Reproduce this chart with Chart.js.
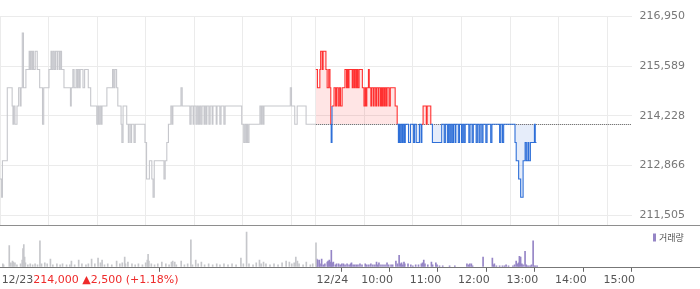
<!DOCTYPE html>
<html><head><meta charset="utf-8">
<script src="https://cdn.jsdelivr.net/npm/chart.js@4"></script>
<style>html,body{margin:0;padding:0;background:#fff;overflow:hidden}canvas{display:block}</style>
</head><body>
<canvas id="price" width="700" height="225"></canvas>
<canvas id="vol" width="700" height="64"></canvas>
<script>
// ---------- data ----------
const BASE_PRICE = 214000;          // reference line (dotted)
const DAY_OFFSET = 390;             // minutes of the 12/23 session shown before 12/24
// 12/23 session: minutes from 09:00, price (value holds until next change)
const prevTimes = [0,2,3,9,15,16,17,18.5,21,23,25,26,27.5,29,32,36,37,38,39.5,40.5,41.5,43.5,46,49,52.5,54,60.5,63,64,65.5,67,68.5,70.5,71.5,73.5,74.5,76,79,87,88,90,91.5,94,95.5,96.5,98,99,102.5,104.5,109,112,119.5,121,122,123.5,125,126,132,139,140.5,142,144,145.5,149.5,150.5,152,156.5,158.5,159.5,161.5,162.5,165.5,167,179,181,184.5,187.5,189,190.5,202.5,204,206,208,211,212.5,213.5,223.5,225,234.5,236,238.5,239.5,242,243.5,245,246.5,248,249.5,252,253,254.5,255.5,258,259.5,262,263,267,268,271.5,273,276.5,278,298.5,301,302.5,304,305,306,307.5,321,322.5,323.5,325,326,358.5,360,364,367,378,390];
const prevPrices = [212500,212000,213000,215000,214500,214000,214500,214000,214500,215000,214500,215000,216500,215000,215500,216000,215500,216000,215500,216000,215500,216000,215500,215000,214000,215000,215500,216000,215500,216000,215500,216000,215500,216000,215500,216000,215500,215000,214500,215000,215500,215000,215500,215000,215500,215000,215500,215000,215500,215000,214500,214000,214500,214000,214500,214000,214500,215000,215500,215000,215500,215000,214500,214000,213500,214500,214000,213500,214000,213500,214000,213500,214000,213500,212500,213000,212500,212000,213000,212500,213000,213500,214000,214500,214000,214500,215000,214500,214000,214500,214000,214500,214000,214500,214000,214500,214000,214500,214000,214500,214000,214500,214000,214500,214000,214500,214000,214500,214000,214500,214000,214500,214000,213500,214000,213500,214000,213500,214000,214500,214000,214500,214000,214500,215000,214500,214000,214500,214000,214000];
// 12/24 session: minutes from 09:00, price
const todayTimes = [0,2,5,6,8,9,12.5,14,16,17.5,18.5,19,20,22.5,24.5,25.5,27.5,29,30.5,32.5,36,38,39,40,41,45,46,47.5,48.5,50,51,52,53.5,57.5,59.5,61,62,63,65,66,68,69,71,72,74,75,77,78,80,81,82,83,84.5,85.5,87,88,90.5,92,98,100.5,102,103,104,105.5,107,108,109.5,110.5,114.5,117,120.5,122,124,128,130,131,132.5,136.5,137.5,142,144,155.5,158.5,160,162.5,164,165.5,167,168.5,170,172,173,176,177.5,180,181.5,183,184.5,189,190.5,193,194.5,198,199.5,201.5,203,205,206.5,210,211.5,216,217.5,227,228.5,230.5,232,246,247.5,250.5,253,256,258.5,260,262,263,265,270,271,272.5];
const todayPrices = [215500,215000,215500,216000,215500,216000,215500,215000,215500,215000,214000,213500,214500,215000,214500,215000,214500,215000,214500,215000,215500,215000,215500,215000,215500,215000,215500,215000,215500,215000,215500,215000,215500,215000,214500,215000,214500,215000,215500,215000,214500,215000,214500,215000,214500,215000,214500,215000,214500,215000,214500,215000,214500,215000,214500,215000,214500,215000,214500,214000,213500,214000,213500,214000,213500,214000,213500,214000,213500,214000,213500,214000,213500,214000,213500,214000,214500,214000,214500,214000,213500,214000,213500,214000,213500,214000,213500,214000,213500,214000,213500,214000,213500,214000,213500,214000,213500,214000,213500,214000,213500,214000,213500,214000,213500,214000,213500,214000,213500,214000,213500,214000,213500,214000,213500,214000,213500,213000,212500,212000,213000,213500,213000,213500,213000,213500,214000,213500,213500];
// volume (shares) per minute
const prevVolTimes = [1,2,9,11,13,14,16,18.5,23,25,26,27,28,29,32,35,38,41,44,47,49,53,56,60,63,68,72,75,80,84,86,90,95,99,104,107,111,115,119,122,124,127,131,136,142,146,149,152,153,156,161,165,169,174,178,180,181,182,185,189,193,198,203,207,210,211.5,214,216,222,226,230,234,236,240,243,247,251,256,261,266,270,275,280,285,290,296,299,303,306,311,315,319,321,324,327,332,337,342,347,352,356,359,362,364,366,368,373,377,382,385,389];
const prevVols = [300,200,2200,400,600,500,400,200,300,700,1900,2300,1000,400,200,300,200,300,200,2700,300,400,300,800,200,300,200,300,200,200,600,200,700,300,200,300,800,300,900,400,700,200,300,200,600,300,400,1000,300,500,300,200,300,200,400,700,1300,600,300,200,300,500,300,200,500,600,500,200,600,200,300,2800,200,700,300,500,200,300,200,300,200,300,200,300,200,900,300,3600,300,200,400,700,300,500,300,200,300,200,400,600,500,300,400,1000,600,300,200,500,200,300,2500];
const todayVolTimes = [0,1,3,4,6,8,10,13,14,15.5,17,18,19,20.5,23,24.5,27,29,31,33,35,37.5,40,42,43,45,47,49,51,53.5,56,60,62,64.5,67,69.5,72,74,75.5,77,79.5,82,84.5,87,89,92,94,98,100,102,104,105,106.5,108,109,113,116.5,119,122.5,126,129.5,131,132.5,134,137.5,142,143.5,147.5,149,152,156,164.5,171,186,188,189.5,191.5,193,206,217.5,219,220,222.5,226.5,230,232.5,234.5,237.5,243,245,247,249,250,251,252.5,254,255.5,258,259.5,260.5,262.5,264.5,266,268,269.5,271,273];
const todayVols = [800,700,700,300,800,200,300,500,600,700,500,1700,400,500,200,300,300,200,300,300,200,300,200,300,400,200,200,200,200,300,200,300,200,200,300,200,200,500,200,400,200,200,200,400,200,200,200,600,300,1200,300,400,200,500,300,300,200,100,200,200,300,400,700,300,200,500,200,400,200,100,100,100,100,300,200,300,300,100,1000,900,200,300,100,100,100,100,200,100,100,200,600,300,400,1100,1000,300,200,1600,200,100,100,100,200,2700,100,100,100];
// axes
const yTickValues = [211505, 212866.25, 214227.5, 215588.75, 216950];
const gridTimes = [0,60,120,180,240,300,360,390,450,510,570,630,690,750];
const labelTimes = [0,390,450,510,570,630,690,750];
const labelTexts = ['12/23','12/24','10:00','11:00','12:00','13:00','14:00','15:00'];
const quoteText = '214,000 \u25B22,500 (+1.18%)';
const volumeLegend = '거래량';

// ---------- styles ----------
const FONT = "'DejaVu Sans', sans-serif";
Chart.defaults.font.family = FONT;
Chart.defaults.font.size = 11;
const AXIS_W = 68.4;
const RED = '#ff3030', BLUE = '#2e6fd8', GRAY_LINE = '#c6c7cc';
const PURPLE = '#9585c6', GRAY_BAR = '#c6c7cb', GRID = '#ebebeb';
const fmtLabel = s => (s.indexOf('/') >= 0 ? '\u2004' + s : s);

const segColor = ctx => {
  const a = ctx.p0.parsed.y, b = ctx.p1.parsed.y;
  if (a > BASE_PRICE) return RED;
  if (a < BASE_PRICE) return BLUE;
  return b > BASE_PRICE ? RED : BLUE;
};

const baseLinePlugin = {
  id: 'baseLine',
  beforeDatasetsDraw(chart) {
    const {ctx, chartArea} = chart;
    const y = Math.round(chart.scales.y.getPixelForValue(BASE_PRICE)) + 0.5;
    const x0 = chart.scales.x.getPixelForValue(DAY_OFFSET);
    ctx.save();
    ctx.setLineDash([1, 1]);
    ctx.strokeStyle = '#555';
    ctx.lineWidth = 1;
    ctx.beginPath(); ctx.moveTo(x0, y); ctx.lineTo(chartArea.right, y); ctx.stroke();
    ctx.restore();
  }
};

new Chart(document.getElementById('price'), {
  type: 'line',
  data: { datasets: [
    { data: prevTimes.map((t, i) => ({x: t, y: prevPrices[i]})),
      borderColor: GRAY_LINE, borderWidth: 1.1, pointRadius: 0, stepped: true, fill: false },
    { data: todayTimes.map((t, i) => ({x: DAY_OFFSET + t, y: todayPrices[i]})),
      borderColor: RED, borderWidth: 1.1, pointRadius: 0, stepped: true,
      segment: { borderColor: segColor },
      fill: { target: {value: BASE_PRICE}, above: 'rgba(255,0,0,0.1)', below: 'rgba(46,111,216,0.12)' } }
  ]},
  options: {
    responsive: false, animation: false, events: [],
    layout: { padding: {top: 16.5, left: 0, right: 0, bottom: 0} },
    plugins: { legend: {display: false}, tooltip: {enabled: false} },
    scales: {
      x: { type: 'linear', min: 0, max: 780,
           afterBuildTicks: s => { s.ticks = gridTimes.map(v => ({value: v})); },
           afterFit: s => { s.height = 0; },
           ticks: {display: false}, grid: {color: GRID, drawTicks: false}, border: {display: false} },
      y: { position: 'right', min: 211240, max: 216950,
           afterBuildTicks: s => { s.ticks = yTickValues.map(v => ({value: v})); },
           afterFit: s => { s.width = AXIS_W; s.paddingTop = 0; s.paddingBottom = 0; },
           ticks: { padding: 8, color: '#777', callback: v => Math.round(v).toLocaleString('en-US') },
           grid: {color: GRID, drawTicks: false}, border: {display: false} }
    }
  },
  plugins: [baseLinePlugin]
});

const volDecor = {
  id: 'volDecor',
  afterDraw(chart) {
    const {ctx, chartArea, width} = chart;
    const xs = chart.scales.x;
    ctx.save();
    ctx.lineWidth = 1;
    ctx.strokeStyle = '#8e8e8e';
    ctx.beginPath(); ctx.moveTo(0, 0.5); ctx.lineTo(width, 0.5); ctx.stroke();
    const by = Math.round(chartArea.bottom) + 0.5;
    ctx.strokeStyle = '#777';
    ctx.beginPath(); ctx.moveTo(0, by); ctx.lineTo(width, by); ctx.stroke();
    ctx.font = "11px " + FONT;
    const lx = xs.getPixelForValue(labelTimes[0]) - 4 + ctx.measureText(fmtLabel(labelTexts[0])).width;
    const ly = chartArea.bottom + 5 + 2 + 6.6;
    ctx.fillStyle = '#ee2a2a'; ctx.textBaseline = 'middle'; ctx.textAlign = 'left';
    ctx.fillText(quoteText, lx, ly);
    ctx.fillStyle = PURPLE;
    ctx.fillRect(653, 8.5, 3, 8);
    ctx.fillStyle = '#555';
    ctx.font = "9px 'Noto Sans CJK KR'";
    ctx.fillText(volumeLegend, 659, 12.5);
    ctx.restore();
  }
};

new Chart(document.getElementById('vol'), {
  type: 'bar',
  data: { datasets: [
    { data: prevVolTimes.map((t, i) => ({x: t, y: prevVols[i]})), backgroundColor: GRAY_BAR, barThickness: 1, grouped: false },
    { data: todayVolTimes.map((t, i) => ({x: DAY_OFFSET + t, y: todayVols[i]})), backgroundColor: PURPLE, barThickness: 1, grouped: false }
  ]},
  options: {
    responsive: false, animation: false, events: [],
    layout: { padding: {top: 3.3, left: 0, right: 0, bottom: 0} },
    plugins: { legend: {display: false}, tooltip: {enabled: false} },
    scales: {
      x: { type: 'linear', min: 0, max: 780, offset: false,
           afterBuildTicks: s => { s.ticks = labelTimes.map(v => ({value: v})); },
           ticks: { align: 'start', labelOffset: -4, padding: 2, color: '#555', autoSkip: false, maxRotation: 0,
                    callback: (v, i) => fmtLabel(labelTexts[i]) },
           grid: { drawOnChartArea: false, drawTicks: true, tickLength: 5, tickColor: '#666' },
           border: {display: false} },
      y: { position: 'right', min: 0, max: 4000,
           afterFit: s => { s.width = AXIS_W; },
           ticks: {display: false}, grid: {display: false}, border: {display: false} }
    }
  },
  plugins: [volDecor]
});
</script>
</body></html>
